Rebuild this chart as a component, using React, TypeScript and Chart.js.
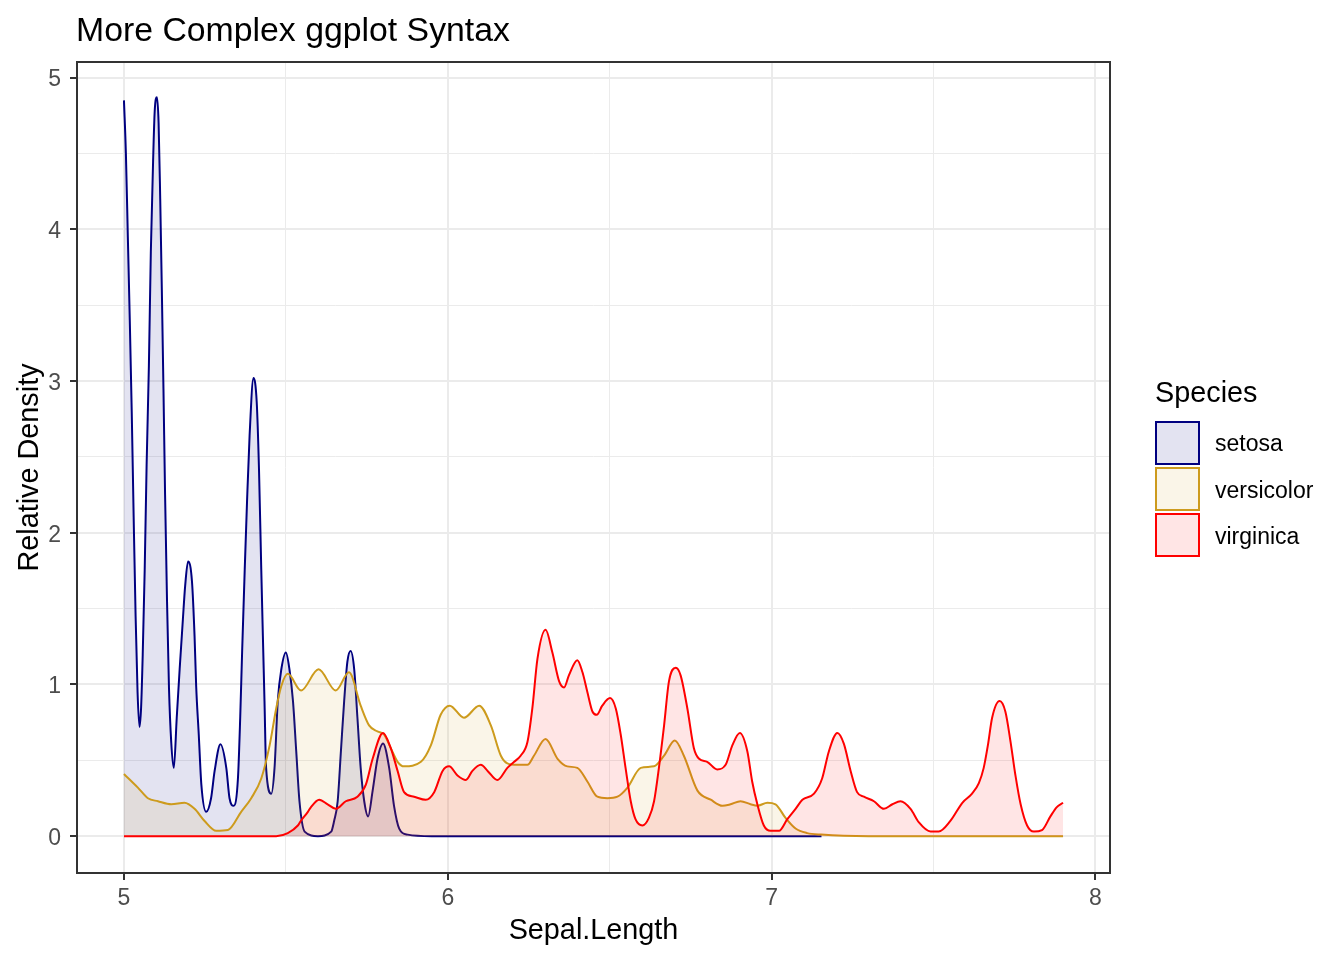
import React, { useEffect, useRef } from "react";
import { Chart, registerables } from "chart.js";

Chart.register(...registerables);

// ---- Data ----
const setosaX = [
  5.0, 5.006, 5.012, 5.018, 5.024, 5.03, 5.036, 5.042, 5.048, 5.053, 5.058, 5.064, 5.07, 5.077, 5.083, 5.09,
  5.095, 5.102, 5.107, 5.112, 5.117, 5.122, 5.127, 5.133, 5.139, 5.146, 5.154, 5.163, 5.172, 5.182, 5.189, 5.198,
  5.21, 5.218, 5.223, 5.231, 5.239, 5.254, 5.269, 5.28, 5.298, 5.316, 5.326, 5.339, 5.352, 5.359, 5.365, 5.373,
  5.38, 5.388, 5.4, 5.41, 5.417, 5.424, 5.429, 5.434, 5.439, 5.455, 5.465, 5.475, 5.486, 5.5, 5.511, 5.522,
  5.532, 5.542, 5.558, 5.599, 5.64, 5.649, 5.66, 5.67, 5.68, 5.69, 5.7, 5.711, 5.721, 5.731, 5.742, 5.754,
  5.768, 5.783, 5.8, 5.819, 5.834, 5.85, 5.876, 5.95, 7.154,
];
const setosaY = [
  4.85, 4.5, 3.95, 3.4, 2.8, 2.1, 1.45, 0.95, 0.72, 0.85, 1.2, 1.75, 2.45, 3.1, 3.85, 4.45,
  4.78, 4.87, 4.7, 4.2, 3.6, 2.95, 2.25, 1.55, 0.98, 0.62, 0.45, 0.78, 1.1, 1.43, 1.65, 1.81,
  1.68, 1.32, 0.99, 0.67, 0.34, 0.16, 0.25, 0.43, 0.605, 0.45, 0.25, 0.2, 0.38, 0.78, 1.22, 1.76,
  2.2, 2.64, 3.02, 2.86, 2.42, 1.76, 1.32, 0.89, 0.45, 0.28, 0.45, 0.89, 1.1, 1.21, 1.1, 0.89,
  0.56, 0.23, 0.03, 0.0, 0.03, 0.1, 0.23, 0.56, 0.89, 1.15, 1.22, 1.1, 0.78, 0.45, 0.23, 0.13,
  0.3, 0.51, 0.61, 0.45, 0.2, 0.05, 0.01, 0.0, 0.0,
];

const versicolorX = [
  5.0, 5.043, 5.074, 5.105, 5.146, 5.187, 5.218, 5.249, 5.285, 5.321, 5.362, 5.393, 5.424, 5.45, 5.47, 5.486,
  5.506, 5.547, 5.601, 5.654, 5.695, 5.731, 5.757, 5.783, 5.803, 5.824, 5.845, 5.865, 5.917, 5.948, 5.978, 6.006,
  6.05, 6.097, 6.133, 6.164, 6.184, 6.215, 6.246, 6.266, 6.302, 6.339, 6.369, 6.4, 6.431, 6.462, 6.493, 6.524,
  6.555, 6.596, 6.637, 6.668, 6.701, 6.729, 6.771, 6.812, 6.848, 6.873, 6.904, 6.935, 6.956, 6.987, 7.012, 7.043,
  7.074, 7.11, 7.153, 7.3, 7.9,
];
const versicolorY = [
  0.41, 0.32, 0.25, 0.23, 0.21, 0.22, 0.18, 0.1, 0.035, 0.04, 0.16, 0.25, 0.38, 0.6, 0.84, 0.99,
  1.07, 0.96, 1.1, 0.96, 1.08, 0.86, 0.73, 0.69, 0.67, 0.58, 0.49, 0.46, 0.49, 0.6, 0.8, 0.86,
  0.78, 0.86, 0.73, 0.53, 0.48, 0.47, 0.47, 0.53, 0.64, 0.51, 0.46, 0.45, 0.36, 0.26, 0.25, 0.26,
  0.32, 0.45, 0.46, 0.53, 0.63, 0.53, 0.3, 0.24, 0.2, 0.21, 0.23, 0.21, 0.2, 0.22, 0.21, 0.12,
  0.05, 0.02, 0.01, 0.0, 0.0,
];

const virginicaX = [
  5.0, 5.47, 5.506, 5.537, 5.546, 5.568, 5.577, 5.603, 5.629, 5.654, 5.685, 5.721, 5.747, 5.768, 5.8, 5.824,
  5.845, 5.865, 5.896, 5.932, 5.958, 5.984, 6.004, 6.03, 6.056, 6.076, 6.102, 6.123, 6.153, 6.184, 6.205, 6.225,
  6.246, 6.261, 6.277, 6.302, 6.323, 6.344, 6.359, 6.374, 6.4, 6.416, 6.431, 6.447, 6.46, 6.477, 6.501, 6.519,
  6.534, 6.549, 6.565, 6.58, 6.601, 6.621, 6.637, 6.652, 6.668, 6.683, 6.704, 6.719, 6.74, 6.76, 6.776, 6.801,
  6.832, 6.858, 6.879, 6.902, 6.925, 6.94, 6.956, 6.976, 6.997, 7.023, 7.048, 7.074, 7.095, 7.131, 7.156, 7.177,
  7.203, 7.223, 7.244, 7.264, 7.285, 7.316, 7.347, 7.373, 7.398, 7.429, 7.455, 7.491, 7.516, 7.552, 7.589, 7.619,
  7.64, 7.655, 7.668, 7.681, 7.704, 7.722, 7.738, 7.753, 7.769, 7.789, 7.81, 7.835, 7.861, 7.88, 7.9,
];
const virginicaY = [
  0.0, 0.0, 0.02, 0.07, 0.1, 0.16, 0.19, 0.24, 0.21, 0.18, 0.23, 0.26, 0.34, 0.51, 0.68, 0.58,
  0.43, 0.29, 0.26, 0.24, 0.29, 0.43, 0.46, 0.4, 0.37, 0.43, 0.47, 0.43, 0.37, 0.45, 0.49, 0.53,
  0.62, 0.84, 1.17, 1.36, 1.21, 1.02, 0.98, 1.06, 1.16, 1.08, 0.95, 0.82, 0.8, 0.86, 0.91, 0.84,
  0.67, 0.45, 0.23, 0.11, 0.07, 0.12, 0.23, 0.45, 0.73, 1.02, 1.11, 1.06, 0.84, 0.58, 0.51, 0.49,
  0.44, 0.47, 0.6, 0.68, 0.56, 0.36, 0.21, 0.07, 0.035, 0.035, 0.11, 0.18, 0.24, 0.28, 0.38, 0.56,
  0.68, 0.61, 0.43, 0.29, 0.26, 0.23, 0.18, 0.21, 0.23, 0.18, 0.09, 0.03, 0.03, 0.1, 0.22, 0.28,
  0.35, 0.45, 0.6, 0.78, 0.89, 0.82, 0.62, 0.4, 0.21, 0.07, 0.03, 0.04, 0.13, 0.19, 0.22,
];

const speciesNames = ["setosa", "versicolor", "virginica"];
const lineColors = ["#000080", "#CD9B1D", "#FF0000"];
const fillColors = ["rgba(0,0,128,0.11)", "rgba(205,155,29,0.1)", "rgba(255,0,0,0.1)"];

const FONT = "'Liberation Sans', Arial, Helvetica, sans-serif";

const isMajor = (v: number) => Math.abs(v - Math.round(v)) < 1e-6;

const panelBorder = {
  id: "panelBorder",
  afterDraw(chart: any) {
    const { ctx, chartArea: a } = chart;
    ctx.save();
    ctx.strokeStyle = "#333333";
    ctx.lineWidth = 2;
    ctx.strokeRect(a.left, a.top, a.right - a.left, a.bottom - a.top);
    ctx.restore();
  },
};

export default function App() {
  const ref = useRef<HTMLCanvasElement>(null);

  useEffect(() => {
    if (!ref.current) return;
    const toPts = (xs: number[], ys: number[]) => xs.map((x, i) => ({ x, y: ys[i] }));
    const series = [
      toPts(setosaX, setosaY),
      toPts(versicolorX, versicolorY),
      toPts(virginicaX, virginicaY),
    ];
    const grid = {
      color: "#EBEBEB",
      lineWidth: (c: any) => (c.tick && isMajor(c.tick.value) ? 2 : 1),
      tickColor: (c: any) => (c.tick && isMajor(c.tick.value) ? "#333333" : "rgba(0,0,0,0)"),
      tickLength: 7,
      drawTicks: true,
    };
    const tickFont = { family: FONT, size: 23 };
    const chart = new Chart(ref.current, {
      type: "line",
      data: {
        datasets: series.map((d, i) => ({
          label: speciesNames[i],
          data: d,
          borderColor: lineColors[i],
          backgroundColor: fillColors[i],
          borderWidth: 2,
          pointRadius: 0,
          fill: "origin",
          cubicInterpolationMode: "monotone" as const,
          order: 3 - i,
        })),
      },
      options: {
        responsive: false,
        animation: false,
        events: [],
        layout: { padding: { left: 0, right: 234, top: 62, bottom: 0 } },
        plugins: {
          legend: { display: false },
          title: { display: false },
          tooltip: { enabled: false },
        },
        scales: {
          x: {
            type: "linear",
            min: 4.855,
            max: 8.045,
            grid,
            border: { display: false },
            ticks: {
              stepSize: 0.5,
              includeBounds: false,
              autoSkip: false,
              maxRotation: 0,
              padding: 5,
              color: "#4D4D4D",
              font: tickFont,
              callback: (v: any) => (isMajor(Number(v)) ? String(Math.round(Number(v))) : ""),
            },
            title: {
              display: true,
              text: "Sepal.Length",
              color: "#000000",
              font: { family: FONT, size: 28.8 },
              padding: { top: 0, bottom: 12 },
            },
            afterFit: (s: any) => {
              s.height = 87;
            },
          },
          y: {
            type: "linear",
            min: -0.243,
            max: 5.103,
            grid,
            border: { display: false },
            ticks: {
              stepSize: 0.5,
              includeBounds: false,
              autoSkip: false,
              padding: 9,
              labelOffset: 2.5,
              color: "#4D4D4D",
              font: tickFont,
              callback: (v: any) => (isMajor(Number(v)) ? String(Math.round(Number(v))) : ""),
            },
            title: {
              display: true,
              text: "Relative Density",
              color: "#000000",
              font: { family: FONT, size: 28.8 },
              padding: { top: 13, bottom: 0 },
            },
            afterFit: (s: any) => {
              s.width = 77;
            },
          },
        },
      },
      plugins: [panelBorder],
    });
    return () => chart.destroy();
  }, []);

  const legendTops = [421, 467, 513];
  const labelTops = [432.2, 478.8, 524.8];
  return (
    <div style={{ position: "absolute", left: 0, top: 0, width: 1344, height: 960, background: "#FFFFFF", fontFamily: FONT }}>
      <canvas ref={ref} width={1344} height={960} style={{ position: "absolute", left: 0, top: 0, width: 1344, height: 960, display: "block" }} />
      <div style={{ position: "absolute", left: 76, top: 12.8, fontSize: 33.8, lineHeight: "33.8px", color: "#000", whiteSpace: "nowrap" }}>
        More Complex ggplot Syntax
      </div>
      <div style={{ position: "absolute", left: 1155, top: 378.3, fontSize: 28.8, lineHeight: "28.8px", color: "#000", whiteSpace: "nowrap" }}>
        Species
      </div>
      {speciesNames.map((name, i) => (
        <React.Fragment key={name}>
          <div
            style={{
              position: "absolute",
              left: 1155,
              top: legendTops[i],
              width: 45,
              height: 44,
              boxSizing: "border-box",
              border: `2px solid ${lineColors[i]}`,
              background: fillColors[i],
            }}
          />
          <div style={{ position: "absolute", left: 1215, top: labelTops[i], fontSize: 23, lineHeight: "23px", color: "#000", whiteSpace: "nowrap" }}>
            {name}
          </div>
        </React.Fragment>
      ))}
    </div>
  );
}
